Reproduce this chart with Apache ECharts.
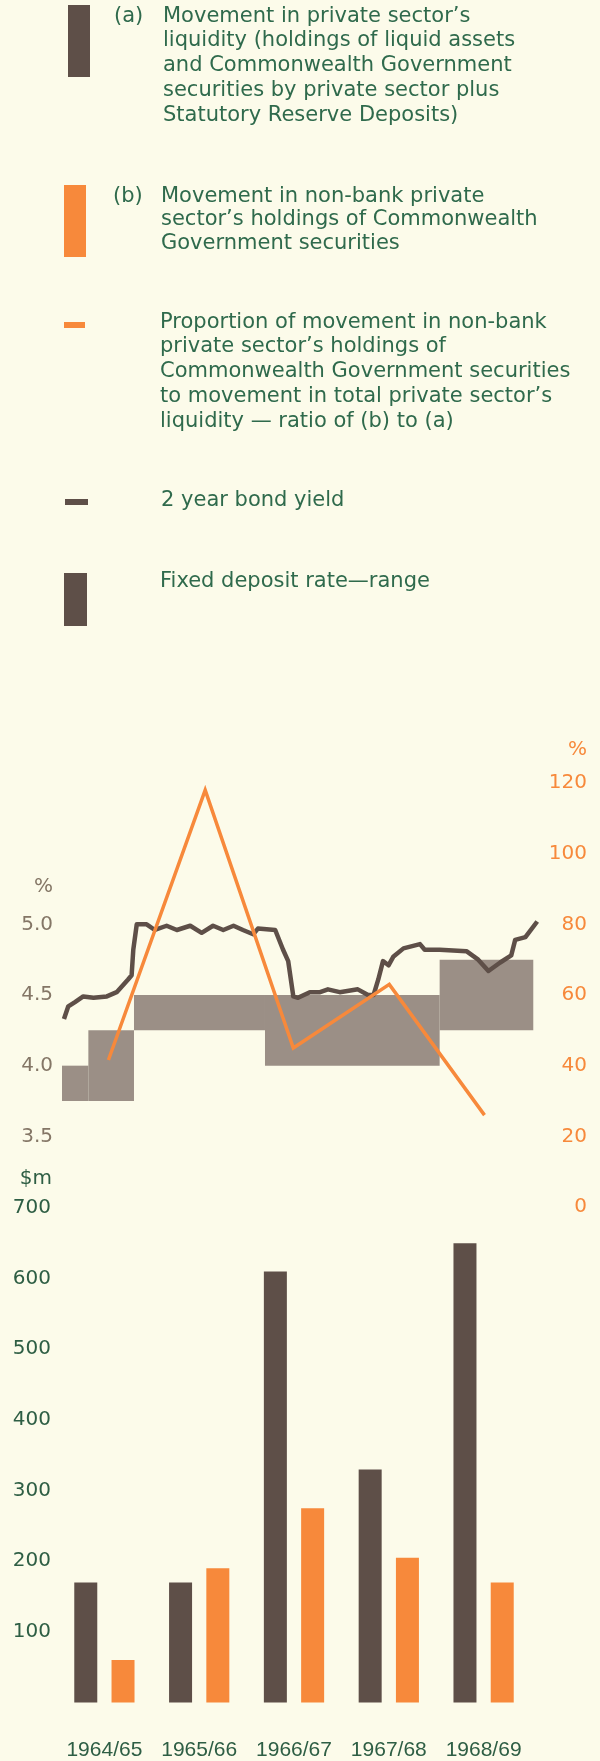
<!DOCTYPE html>
<html>
<head>
<meta charset="utf-8">
<script src="https://cdn.jsdelivr.net/npm/echarts/dist/echarts.min.js"></script>
<style>
html,body{margin:0;padding:0;background:#fcfbea;}
#chart{width:600px;height:1761px;}
</style>
</head>
<body>
<div id="chart"></div>
<script>
// ---- data ----
const categories = ['1964/65', '1965/66', '1966/67', '1967/68', '1968/69'];
const liquidityMovement = [170, 170, 610, 330, 650];      // (a) $m
const nonBankCGSMovement = [60, 190, 275, 205, 170];      // (b) $m
const ratioMonths = [5.9, 18.2, 29.4, 41.6, 53.7];        // months from July 1964
const ratioValues = [41.6, 118, 45, 63, 26];              // % (b)/(a)
const bondMonths = [0.25, 0.8, 1.65, 2.7, 4.0, 5.7, 6.95, 8.4, 8.85, 9.06, 9.5, 10.76, 11.8, 13.3, 14.6, 16.3, 17.75, 19.2, 20.5, 21.8, 23.0, 24.3, 24.9, 27.1, 28.1, 28.75, 29.4, 30.0, 31.5, 32.8, 33.8, 35.3, 37.6, 38.9, 39.6, 40.2, 40.8, 41.5, 42.1, 43.4, 45.5, 46.1, 48.0, 51.4, 52.9, 54.2, 55.7, 57.1, 57.6, 58.9, 60.4];
const bondYield = [4.33, 4.42, 4.45, 4.49, 4.48, 4.49, 4.52, 4.61, 4.64, 4.82, 5.0, 5.0, 4.96, 4.99, 4.96, 4.99, 4.94, 4.99, 4.96, 4.99, 4.96, 4.93, 4.97, 4.96, 4.82, 4.74, 4.49, 4.48, 4.52, 4.52, 4.54, 4.52, 4.54, 4.5, 4.5, 4.61, 4.74, 4.71, 4.77, 4.83, 4.86, 4.82, 4.82, 4.81, 4.75, 4.67, 4.73, 4.78, 4.89, 4.91, 5.02];
const depositStart = [0, 3.35, 9.15, 25.8, 48];
const depositEnd = [3.35, 9.15, 25.8, 48, 59.9];
const depositLow = [3.75, 3.75, 4.25, 4.0, 4.25];
const depositHigh = [4.0, 4.25, 4.5, 4.5, 4.75];
const yieldTickLabels = ['3.5', '4.0', '4.5', '5.0'];
const ratioTickLabels = ['0', '20', '40', '60', '80', '100', '120'];
const dollarTickLabels = ['100', '200', '300', '400', '500', '600', '700'];

// ---- styles ----
const DARK = '#5e4f48';
const ORANGE = '#f7893b';
const BOX = '#9b8f86';
const GREEN = '#2f6a4c';
const GREEN_AX = '#2e5e44';
const GREYBROWN = '#847666';
const FONT = '"DejaVu Sans", sans-serif';
const LFONT = '"Liberation Sans", Arial, sans-serif';

const depositData = depositStart.map((s, i) => [s, depositEnd[i], depositLow[i], depositHigh[i]]);
const bondData = bondMonths.map((m, i) => [m, bondYield[i]]);
const ratioData = ratioMonths.map((m, i) => [m, ratioValues[i]]);

function txt(x, y, text, opts) {
  opts = opts || {};
  return {
    type: 'text', x: x, y: y, silent: true,
    style: {
      text: text, fill: opts.fill || GREEN,
      fontSize: opts.size || 21, fontFamily: opts.font || FONT,
      align: opts.align || 'left', verticalAlign: 'middle'
    }
  };
}
function rect(x, y, w, h, fill) {
  return { type: 'rect', silent: true, shape: { x: x, y: y, width: w, height: h }, style: { fill: fill } };
}

const graphics = [
  rect(68, 5, 22, 72, DARK),
  txt(114, 17, '(a)'),
  txt(163, 17, 'Movement in private sector\u2019s'),
  txt(163, 41, 'liquidity (holdings of liquid assets'),
  txt(163, 66, 'and Commonwealth Government'),
  txt(163, 91, 'securities by private sector plus'),
  txt(163, 116, 'Statutory Reserve Deposits)'),
  rect(64, 185, 22, 72, ORANGE),
  txt(113, 197, '(b)'),
  txt(161, 197, 'Movement in non-bank private'),
  txt(161, 220, 'sector\u2019s holdings of Commonwealth'),
  txt(161, 244, 'Government securities'),
  rect(64, 322, 21, 6, ORANGE),
  txt(160, 323, 'Proportion of movement in non-bank'),
  txt(160, 347, 'private sector\u2019s holdings of'),
  txt(160, 372, 'Commonwealth Government securities'),
  txt(160, 397, 'to movement in total private sector\u2019s'),
  txt(160, 422, 'liquidity \u2014 ratio of (b) to (a)'),
  rect(65, 499, 23, 6, DARK),
  txt(161, 501, '2 year bond yield'),
  rect(64, 573, 23, 53, DARK),
  txt(160, 582, 'Fixed deposit rate\u2014range'),
  txt(53, 887, '%', { fill: GREYBROWN, size: 20, align: 'right' }),
  txt(587, 750, '%', { fill: ORANGE, size: 20, align: 'right' }),
  txt(52, 1179, '$m', { fill: GREEN_AX, size: 20, align: 'right' })
];

const chart = echarts.init(document.getElementById('chart'), null, { renderer: 'canvas' });
chart.setOption({
  backgroundColor: '#fcfbea',
  animation: false,
  grid: [
    { left: 62, right: 62, top: 783, bottom: 554 },
    { left: 57, right: 69, top: 1208, bottom: 58.5 }
  ],
  xAxis: [
    { gridIndex: 0, type: 'value', min: 0, max: 60.5, show: false },
    {
      gridIndex: 1, type: 'category', data: categories,
      axisLine: { show: false }, axisTick: { show: false },
      axisLabel: { color: GREEN_AX, fontSize: 21, fontFamily: LFONT, margin: 37, interval: 0 }
    }
  ],
  yAxis: [
    {
      gridIndex: 0, type: 'value', min: 3, max: 6, interval: 0.5,
      axisLine: { show: false }, axisTick: { show: false }, splitLine: { show: false },
      axisLabel: {
        color: GREYBROWN, fontSize: 20, fontFamily: FONT, margin: 9, padding: [0, 0, 6, 0],
        formatter: v => { const s = v.toFixed(1); return yieldTickLabels.indexOf(s) >= 0 ? s : ''; }
      }
    },
    {
      gridIndex: 0, type: 'value', min: 0, max: 120, interval: 20, position: 'right',
      axisLine: { show: false }, axisTick: { show: false }, splitLine: { show: false },
      axisLabel: {
        color: ORANGE, fontSize: 20, fontFamily: FONT, align: 'right', margin: 49,
        formatter: v => { const s = String(v); return ratioTickLabels.indexOf(s) >= 0 ? s : ''; }
      }
    },
    {
      gridIndex: 1, type: 'value', min: 0, max: 700, interval: 100,
      axisLine: { show: false }, axisTick: { show: false }, splitLine: { show: false },
      axisLabel: {
        color: GREEN_AX, fontSize: 20, fontFamily: FONT, margin: 6,
        formatter: v => { const s = String(v); return dollarTickLabels.indexOf(s) >= 0 ? s : ''; }
      }
    }
  ],
  series: [
    {
      name: 'Fixed deposit rate \u2014 range', type: 'custom', xAxisIndex: 0, yAxisIndex: 0, z: 1,
      data: depositData, encode: { x: [0, 1], y: [2, 3] },
      renderItem: function (params, api) {
        const p0 = api.coord([api.value(0), api.value(3)]);
        const p1 = api.coord([api.value(1), api.value(2)]);
        return { type: 'rect', shape: { x: p0[0], y: p0[1], width: p1[0] - p0[0], height: p1[1] - p0[1] }, style: { fill: BOX } };
      }
    },
    {
      name: '2 year bond yield', type: 'line', xAxisIndex: 0, yAxisIndex: 0, z: 3,
      data: bondData, symbol: 'none', lineStyle: { color: DARK, width: 4.5, join: 'round' }
    },
    {
      name: 'Ratio of (b) to (a)', type: 'line', xAxisIndex: 0, yAxisIndex: 1, z: 4,
      data: ratioData, symbol: 'none', lineStyle: { color: ORANGE, width: 3.5, join: 'miter' }
    },
    {
      name: '(a) Movement in private sector\u2019s liquidity', type: 'bar', xAxisIndex: 1, yAxisIndex: 2,
      data: liquidityMovement, barWidth: 23, barGap: '62%', itemStyle: { color: DARK }
    },
    {
      name: '(b) Movement in non-bank holdings of CGS', type: 'bar', xAxisIndex: 1, yAxisIndex: 2,
      data: nonBankCGSMovement, barWidth: 23, barGap: '62%', itemStyle: { color: ORANGE }
    }
  ],
  graphic: graphics
});
</script>
</body>
</html>
